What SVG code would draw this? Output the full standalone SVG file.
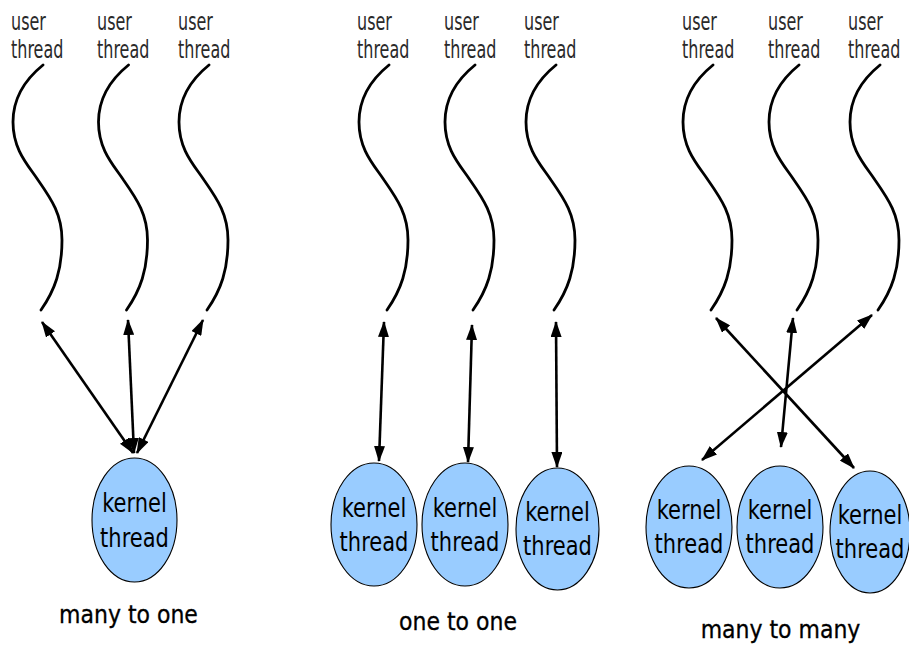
<svg xmlns="http://www.w3.org/2000/svg" xmlns:xlink="http://www.w3.org/1999/xlink" width="909" height="646" viewBox="0 0 909 646">
<style>
.ut{font-family:"DejaVu Sans","Liberation Sans",sans-serif;font-size:16px;fill:#2a2a2a}
.kt{font-family:"DejaVu Sans","Liberation Sans",sans-serif;font-size:21px;fill:#000;text-anchor:middle}
.lb{font-family:"DejaVu Sans","Liberation Sans",sans-serif;font-size:22px;fill:#000;text-anchor:middle;stroke:#000;stroke-width:0.3}
.wave{fill:none;stroke:#000;stroke-width:2.8;stroke-linecap:round}
.kn{fill:#99ccff;stroke:#000;stroke-width:1.1}
.arr{fill:none;stroke:#000;stroke-width:2.6;marker-start:url(#ah);marker-end:url(#ah)}
</style>
<defs>
<marker id="ah" viewBox="0 0 16 11" refX="15" refY="5.5" markerWidth="16" markerHeight="11" markerUnits="userSpaceOnUse" orient="auto-start-reverse">
<path d="M0,0 L16,5.5 L0,11 Z" fill="#000"/>
</marker>
<path id="w" class="wave" d="M43,65 C22,82 13,100 13,122 C13,150 28,165 38,180 C52,200 62,215 62,240 C62,270 55,290 41,310"/>
</defs>
<rect width="909" height="646" fill="#fff"/>

<!-- many to one -->
<g id="u1a"><text class="ut" transform="translate(11,30) scale(1,1.5)">user</text><text class="ut" transform="translate(11,58) scale(1,1.5)">thread</text><use xlink:href="#w"/></g>
<g id="u1b"><text class="ut" transform="translate(97,30) scale(1,1.5)">user</text><text class="ut" transform="translate(97,58) scale(1,1.5)">thread</text><use xlink:href="#w" transform="translate(85.5,0)"/></g>
<g id="u1c"><text class="ut" transform="translate(178,30) scale(1,1.5)">user</text><text class="ut" transform="translate(178,58) scale(1,1.5)">thread</text><use xlink:href="#w" transform="translate(166,0)"/></g>
<g id="k1"><ellipse class="kn" cx="134.5" cy="520" rx="42.5" ry="62"/><text class="kt" transform="translate(134.5,512) scale(1,1.3)">kernel</text><text class="kt" transform="translate(134.5,547) scale(1,1.3)">thread</text></g>

<!-- one to one -->
<g id="u2a"><text class="ut" transform="translate(357,30) scale(1,1.5)">user</text><text class="ut" transform="translate(357,58) scale(1,1.5)">thread</text><use xlink:href="#w" transform="translate(346,0)"/></g>
<g id="u2b"><text class="ut" transform="translate(444,30) scale(1,1.5)">user</text><text class="ut" transform="translate(444,58) scale(1,1.5)">thread</text><use xlink:href="#w" transform="translate(432,0)"/></g>
<g id="u2c"><text class="ut" transform="translate(524,30) scale(1,1.5)">user</text><text class="ut" transform="translate(524,58) scale(1,1.5)">thread</text><use xlink:href="#w" transform="translate(513,0)"/></g>
<g id="k2a"><ellipse class="kn" cx="374" cy="524.5" rx="43" ry="61.5"/><text class="kt" transform="translate(374,517) scale(1,1.3)">kernel</text><text class="kt" transform="translate(374,551) scale(1,1.3)">thread</text></g>
<g id="k2b"><ellipse class="kn" cx="465" cy="524.5" rx="43" ry="61.5"/><text class="kt" transform="translate(465,517) scale(1,1.3)">kernel</text><text class="kt" transform="translate(465,551) scale(1,1.3)">thread</text></g>
<g id="k2c"><ellipse class="kn" cx="557.5" cy="529" rx="41.5" ry="61"/><text class="kt" transform="translate(557.5,521) scale(1,1.3)">kernel</text><text class="kt" transform="translate(557.5,555) scale(1,1.3)">thread</text></g>

<!-- many to many -->
<g id="u3a"><text class="ut" transform="translate(682,30) scale(1,1.5)">user</text><text class="ut" transform="translate(682,58) scale(1,1.5)">thread</text><use xlink:href="#w" transform="translate(670,0)"/></g>
<g id="u3b"><text class="ut" transform="translate(768,30) scale(1,1.5)">user</text><text class="ut" transform="translate(768,58) scale(1,1.5)">thread</text><use xlink:href="#w" transform="translate(756,0)"/></g>
<g id="u3c"><text class="ut" transform="translate(848,30) scale(1,1.5)">user</text><text class="ut" transform="translate(848,58) scale(1,1.5)">thread</text><use xlink:href="#w" transform="translate(837,0)"/></g>
<g id="k3a"><ellipse class="kn" cx="689" cy="527" rx="43" ry="61"/><text class="kt" transform="translate(689,519) scale(1,1.3)">kernel</text><text class="kt" transform="translate(689,553) scale(1,1.3)">thread</text></g>
<g id="k3b"><ellipse class="kn" cx="780" cy="527" rx="43" ry="61"/><text class="kt" transform="translate(780,519) scale(1,1.3)">kernel</text><text class="kt" transform="translate(780,553) scale(1,1.3)">thread</text></g>
<g id="k3c"><ellipse class="kn" cx="870" cy="532" rx="40" ry="61"/><text class="kt" transform="translate(870,524) scale(1,1.3)">kernel</text><text class="kt" transform="translate(870,558) scale(1,1.3)">thread</text></g>

<g id="connectors">
<line class="arr" x1="42" y1="322" x2="133" y2="453"/>
<line class="arr" x1="128" y1="320" x2="134" y2="453"/>
<line class="arr" x1="203" y1="320" x2="137" y2="453"/>
<line class="arr" x1="384" y1="322" x2="379" y2="461"/>
<line class="arr" x1="472" y1="325" x2="468" y2="462"/>
<line class="arr" x1="556" y1="322" x2="557" y2="467"/>
<line class="arr" x1="716" y1="318" x2="854" y2="468"/>
<line class="arr" x1="872" y1="315" x2="702" y2="460"/>
<line class="arr" x1="793" y1="318" x2="781" y2="447"/>
</g>

<g id="labels">
<text class="lb" transform="translate(128.5,623) scale(1,1.1)">many to one</text>
<text class="lb" transform="translate(458,630) scale(1,1.1)">one to one</text>
<text class="lb" transform="translate(780.5,638) scale(1,1.1)">many to many</text>
</g>
</svg>
